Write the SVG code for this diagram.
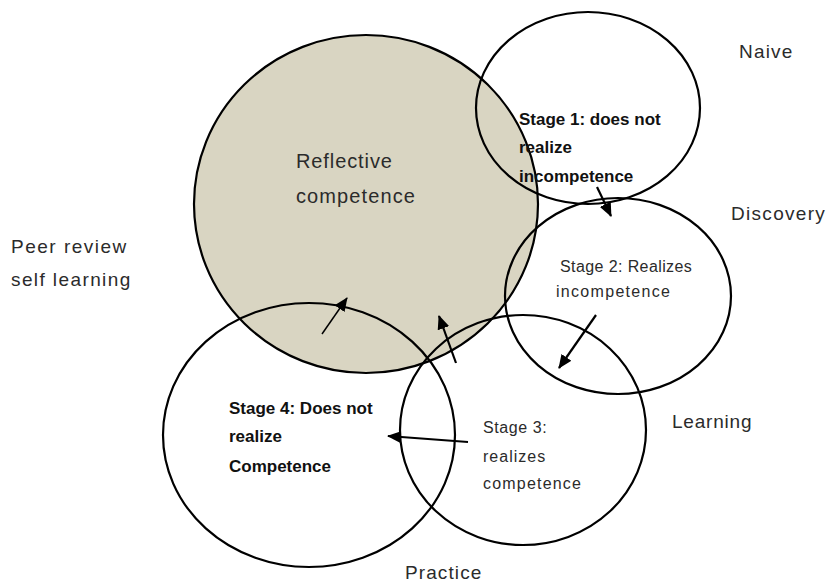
<svg xmlns="http://www.w3.org/2000/svg" width="827" height="584" viewBox="0 0 827 584">
<style>
.c{fill:none;stroke:#000;stroke-width:2.2}
.t{font-family:"Liberation Sans",Arial,sans-serif;fill:#2b2b2b}
.lab{font-size:19px}
.st{font-size:16px}
.b{font-family:"Liberation Sans",Arial,sans-serif;font-weight:bold;font-size:17px;fill:#111}
.a{stroke:#000;stroke-width:2.2;fill:none;marker-end:url(#ah)}
</style>
<defs>
<marker id="ah" markerUnits="userSpaceOnUse" markerWidth="14" markerHeight="12" refX="13" refY="6" orient="auto">
<path d="M0,0 L14,6 L0,12 Z" fill="#000"/>
</marker>
</defs>
<rect width="827" height="584" fill="#fff"/>
<g id="reflective">
<ellipse cx="366" cy="204" rx="172" ry="169" fill="#d9d5c2" stroke="#000" stroke-width="2.2"/>
<text class="t" x="296" y="168" font-size="20" letter-spacing="0.9">Reflective</text>
<text class="t" x="296" y="203" font-size="20" letter-spacing="1.1">competence</text>
</g>
<g id="stage1">
<ellipse class="c" cx="588" cy="108" rx="112" ry="96"/>
<text class="b" x="519" y="125">Stage 1: does not</text>
<text class="b" x="519" y="153">realize</text>
<text class="b" x="519" y="182">incompetence</text>
</g>
<g id="stage2">
<ellipse class="c" cx="618" cy="296" rx="113" ry="98"/>
<text class="t st" x="560" y="272" letter-spacing="0.4">Stage 2: Realizes</text>
<text class="t st" x="556" y="297" letter-spacing="1.3">incompetence</text>
</g>
<g id="stage3">
<ellipse class="c" cx="523" cy="430" rx="123" ry="115"/>
<text class="t st" x="483" y="433" letter-spacing="0.6">Stage 3:</text>
<text class="t st" x="483" y="462" letter-spacing="1">realizes</text>
<text class="t st" x="483" y="489" letter-spacing="1.2">competence</text>
</g>
<g id="stage4">
<ellipse class="c" cx="309" cy="435" rx="146" ry="132"/>
<text class="b" x="229" y="414">Stage 4: Does not</text>
<text class="b" x="229" y="442">realize</text>
<text class="b" x="229" y="472">Competence</text>
</g>
<g id="labels">
<text class="t lab" x="739" y="58" letter-spacing="1.2">Naive</text>
<text class="t lab" x="731" y="220" letter-spacing="1.3">Discovery</text>
<text class="t lab" x="11" y="253" letter-spacing="1.5">Peer review</text>
<text class="t lab" x="11" y="286" letter-spacing="1.4">self learning</text>
<text class="t lab" x="672" y="428" letter-spacing="0.8">Learning</text>
<text class="t lab" x="405" y="579" letter-spacing="1.1">Practice</text>
</g>
<g id="connectors">
<line class="a" x1="597" y1="187" x2="611" y2="216"/>
<line class="a" x1="596" y1="315" x2="559" y2="368"/>
<line class="a" x1="468" y1="442" x2="388" y2="436"/>
<line class="a" x1="456" y1="363" x2="439" y2="316"/>
<line class="a" x1="322" y1="334" x2="347" y2="298" style="stroke-width:1.5"/>
</g>
</svg>
